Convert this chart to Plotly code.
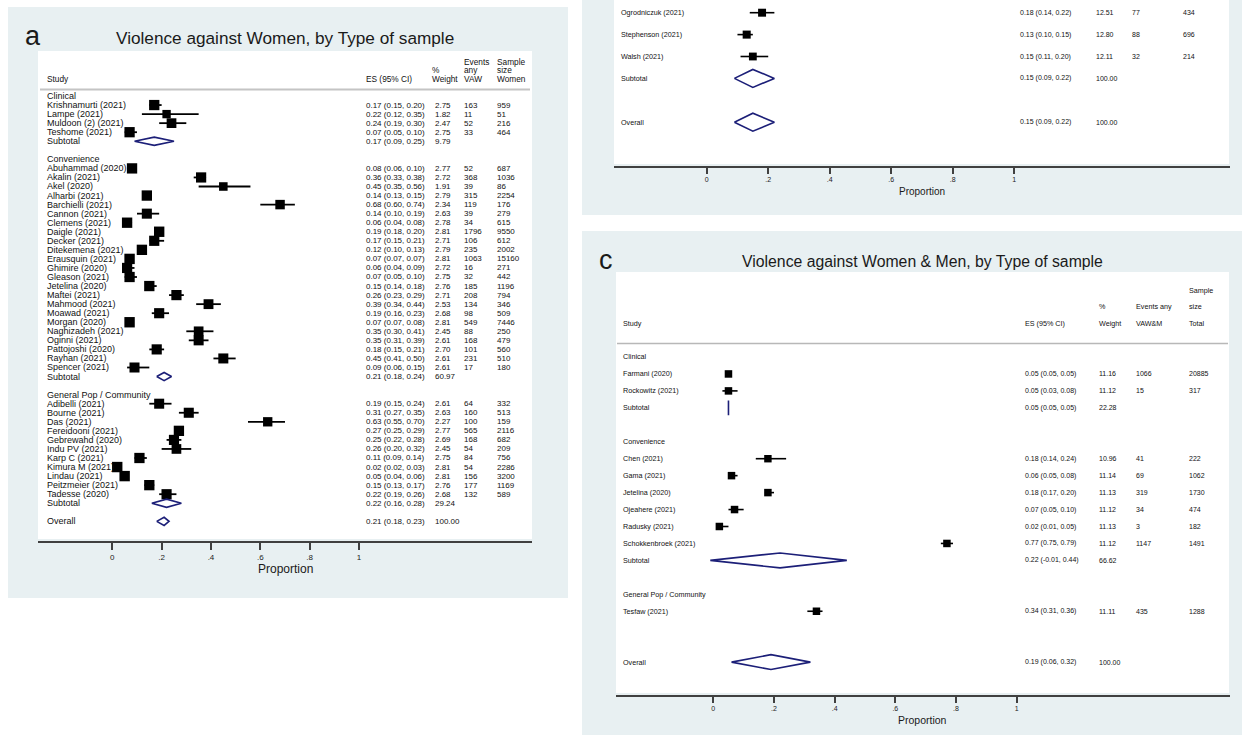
import plotly.graph_objects as go

W, H = 1242, 735

# ---------------- Panel a : Violence against Women ----------------
a_group_names = ["Clinical", "Convenience", "General Pop / Community"]
a_study = ["Krishnamurti (2021)", "Lampe (2021)", "Muldoon (2) (2021)", "Teshome (2021)",
           "Abuhammad (2020)", "Akalin (2021)", "Akel (2020)", "Alharbi (2021)", "Barchielli (2021)",
           "Cannon (2021)", "Clemens (2021)", "Daigle (2021)", "Decker (2021)", "Ditekemena (2021)",
           "Erausquin (2021)", "Ghimire (2020)", "Gleason (2021)", "Jetelina (2020)", "Maftei (2021)",
           "Mahmood (2021)", "Moawad (2021)", "Morgan (2020)", "Naghizadeh (2021)", "Oginni (2021)",
           "Pattojoshi (2020)", "Rayhan (2021)", "Spencer (2021)",
           "Adibelli (2021)", "Bourne (2021)", "Das (2021)", "Fereidooni (2021)", "Gebrewahd (2020)",
           "Indu PV (2021)", "Karp C (2021)", "Kimura M (2021)", "Lindau (2021)", "Peitzmeier (2021)",
           "Tadesse (2020)"]
a_group = [0]*4 + [1]*23 + [2]*11
a_es = [0.17, 0.22, 0.24, 0.07,
        0.08, 0.36, 0.45, 0.14, 0.68, 0.14, 0.06, 0.19, 0.17, 0.12, 0.07, 0.06, 0.07, 0.15, 0.26,
        0.39, 0.19, 0.07, 0.35, 0.35, 0.18, 0.45, 0.09,
        0.19, 0.31, 0.63, 0.27, 0.25, 0.26, 0.11, 0.02, 0.05, 0.15, 0.22]
a_lo = [0.15, 0.12, 0.19, 0.05,
        0.06, 0.33, 0.35, 0.13, 0.60, 0.10, 0.04, 0.18, 0.15, 0.10, 0.07, 0.04, 0.05, 0.14, 0.23,
        0.34, 0.16, 0.07, 0.30, 0.31, 0.15, 0.41, 0.06,
        0.15, 0.27, 0.55, 0.25, 0.22, 0.20, 0.09, 0.02, 0.04, 0.13, 0.19]
a_hi = [0.20, 0.35, 0.30, 0.10,
        0.10, 0.38, 0.56, 0.15, 0.74, 0.19, 0.08, 0.20, 0.21, 0.13, 0.07, 0.09, 0.10, 0.18, 0.29,
        0.44, 0.23, 0.08, 0.41, 0.39, 0.21, 0.50, 0.15,
        0.24, 0.35, 0.70, 0.29, 0.28, 0.32, 0.14, 0.03, 0.06, 0.17, 0.26]
a_wt = [2.75, 1.82, 2.47, 2.75,
        2.77, 2.72, 1.91, 2.79, 2.34, 2.63, 2.78, 2.81, 2.71, 2.79, 2.81, 2.72, 2.75, 2.76, 2.71,
        2.53, 2.68, 2.81, 2.45, 2.61, 2.70, 2.61, 2.61,
        2.61, 2.63, 2.27, 2.77, 2.69, 2.45, 2.75, 2.81, 2.81, 2.76, 2.68]
a_events = [163, 11, 52, 33,
            52, 368, 39, 315, 119, 39, 34, 1796, 106, 235, 1063, 16, 32, 185, 208,
            134, 98, 549, 88, 168, 101, 231, 17,
            64, 160, 100, 565, 168, 54, 84, 54, 156, 177, 132]
a_n = [959, 51, 216, 464,
       687, 1036, 86, 2254, 176, 279, 615, 9550, 612, 2002, 15160, 271, 442, 1196, 794,
       346, 509, 7446, 250, 479, 560, 510, 180,
       332, 513, 159, 2116, 682, 209, 756, 2286, 3200, 1169, 589]
a_sub_es = [0.17, 0.21, 0.22]
a_sub_lo = [0.09, 0.18, 0.16]
a_sub_hi = [0.25, 0.24, 0.28]
a_sub_wt = [9.79, 60.97, 29.24]
a_has_sub = [True, True, True]
a_overall = [0.21, 0.18, 0.23, 100.00]
a_header = [("Study", 47, ["Study"]), ("ES", 366, ["ES (95% CI)"]), ("W", 432, ["%", "Weight"]),
            ("E", 464, ["Events", "any", "VAW"]), ("N", 497, ["Sample", "size", "Women"])]

# ---------------- Panel b (lower part visible) ----------------
b_group_names = [None]
b_study = ["Ogrodniczuk (2021)", "Stephenson (2021)", "Walsh (2021)"]
b_group = [0, 0, 0]
b_es = [0.18, 0.13, 0.15]
b_lo = [0.14, 0.10, 0.11]
b_hi = [0.22, 0.15, 0.20]
b_wt = [12.51, 12.80, 12.11]
b_events = [77, 88, 32]
b_n = [434, 696, 214]
b_sub_es = [0.15]
b_sub_lo = [0.09]
b_sub_hi = [0.22]
b_sub_wt = [100.00]
b_has_sub = [True]
b_overall = [0.15, 0.09, 0.22, 100.00]

# ---------------- Panel c : Violence against Women & Men ----------------
c_group_names = ["Clinical", "Convenience", "General Pop / Community"]
c_study = ["Farmani (2020)", "Rockowitz (2021)",
           "Chen (2021)", "Gama (2021)", "Jetelina (2020)", "Ojeahere (2021)", "Radusky (2021)",
           "Schokkenbroek (2021)",
           "Tesfaw (2021)"]
c_group = [0, 0, 1, 1, 1, 1, 1, 1, 2]
c_es = [0.05, 0.05, 0.18, 0.06, 0.18, 0.07, 0.02, 0.77, 0.34]
c_lo = [0.05, 0.03, 0.14, 0.05, 0.17, 0.05, 0.01, 0.75, 0.31]
c_hi = [0.05, 0.08, 0.24, 0.08, 0.20, 0.10, 0.05, 0.79, 0.36]
c_wt = [11.16, 11.12, 10.96, 11.14, 11.13, 11.12, 11.13, 11.12, 11.11]
c_events = [1066, 15, 41, 69, 319, 34, 3, 1147, 435]
c_n = [20885, 317, 222, 1062, 1730, 474, 182, 1491, 1288]
c_sub_es = [0.05, 0.22, None]
c_sub_lo = [0.05, -0.01, None]
c_sub_hi = [0.05, 0.44, None]
c_sub_wt = [22.28, 66.62, None]
c_has_sub = [True, True, False]
c_overall = [0.19, 0.06, 0.32, 100.00]
c_header = [("Study", 623, ["Study"]), ("ES", 1025, ["ES (95% CI)"]), ("W", 1099, ["%", "Weight"]),
            ("E", 1136, ["Events any", "VAW&M"]), ("N", 1189, ["Sample", "size", "Total"])]

tick_vals = [0, 0.2, 0.4, 0.6, 0.8, 1]
tick_text = ["0", ".2", ".4", ".6", ".8", "1"]

FONT = "Liberation Sans, Arial, sans-serif"
NAVY = "#1c1f78"
BG = "#e8f0f2"
AXC = "#404040"

fig = go.Figure()
shapes = []
annots = []


def px(x):
    return x / W


def py(y):
    return 1 - y / H


def rect(x0, y0, x1, y1, color):
    shapes.append(dict(type="rect", xref="paper", yref="paper", x0=px(x0), x1=px(x1),
                       y0=py(y1), y1=py(y0), fillcolor=color, line=dict(width=0), layer="below"))


def panel(ax, study, group, es, lo, hi, wt, ev, n, gnames, s_es, s_lo, s_hi, s_wt, has_sub,
          overall, cols, fs_name, fs_num, k, dh, lw):
    ya = "y" if ax == 1 else f"y{ax}"
    xa = "x" if ax == 1 else f"x{ax}"
    rows_txt = []
    st_rows, r = [], 0
    dia = []
    for g, gname in enumerate(gnames):
        if gname is not None:
            rows_txt.append((r, "Study", gname))
            r += 1
        for i in range(len(study)):
            if group[i] != g:
                continue
            st_rows.append(r)
            rows_txt += [(r, "Study", study[i]),
                         (r, "ES", f"{es[i]:.2f} ({lo[i]:.2f}, {hi[i]:.2f})"),
                         (r, "W", f"{wt[i]:.2f}"), (r, "E", str(ev[i])), (r, "N", str(n[i]))]
            r += 1
        if has_sub[g]:
            rows_txt += [(r, "Study", "Subtotal"),
                         (r, "ES", f"{s_es[g]:.2f} ({s_lo[g]:.2f}, {s_hi[g]:.2f})"),
                         (r, "W", f"{s_wt[g]:.2f}")]
            dia.append((r, s_es[g], s_lo[g], s_hi[g]))
        r += 2
    rows_txt += [(r, "Study", "Overall"),
                 (r, "ES", f"{overall[0]:.2f} ({overall[1]:.2f}, {overall[2]:.2f})"),
                 (r, "W", f"{overall[3]:.2f}")]
    dia.append((r, overall[0], overall[1], overall[2]))

    for (row, key, txt) in rows_txt:
        annots.append(dict(xref="paper", yref=ya, x=px(cols[key] - 2), y=row, text=txt,
                           xanchor="left", yanchor="middle", showarrow=False,
                           font=dict(family=FONT, size=fs_name if key == "Study" else fs_num,
                                     color="#111")))
    cx, cy = [], []
    for i, rr in enumerate(st_rows):
        cx += [lo[i], hi[i], None]
        cy += [rr, rr, None]
    fig.add_trace(go.Scatter(x=cx, y=cy, mode="lines", line=dict(color="black", width=lw),
                             xaxis=xa, yaxis=ya, hoverinfo="skip"))
    fig.add_trace(go.Scatter(x=es, y=st_rows, mode="markers",
                             marker=dict(symbol="square", color="black", opacity=1,
                                         size=[k * w ** 0.5 for w in wt], line=dict(width=0)),
                             xaxis=xa, yaxis=ya, hoverinfo="skip"))
    dx, dy = [], []
    for (rr, e, l, h) in dia:
        dx += [l, e, h, e, l, None]
        dy += [rr, rr - dh, rr, rr + dh, rr, None]
    fig.add_trace(go.Scatter(x=dx, y=dy, mode="lines", line=dict(color=NAVY, width=1.6),
                             xaxis=xa, yaxis=ya, hoverinfo="skip"))


def header(ya, items, first_row, step, fs):
    for key, x, lines in items:
        nl = len(lines)
        for j, t in enumerate(lines):
            annots.append(dict(xref="paper", yref=ya, x=px(x - 2), y=first_row - (nl - 1 - j) * step,
                               text=t, xanchor="left", yanchor="middle", showarrow=False,
                               font=dict(family=FONT, size=fs, color="#111")))


# ---- backgrounds ----
rect(8, 7, 568, 598, BG)
rect(582, -5, 1242, 215, BG)
rect(582, 231, 1242, 740, BG)
rect(38, 51, 532, 539, "white")
rect(614, -5, 1229, 164, "white")
rect(616, 272, 1229, 693, "white")

# ---- panel a ----
cols_a = {"Study": 47, "ES": 366, "W": 435, "E": 464, "N": 497}
panel(1, a_study, a_group, a_es, a_lo, a_hi, a_wt, a_events, a_n, a_group_names,
      a_sub_es, a_sub_lo, a_sub_hi, a_sub_wt, a_has_sub, a_overall, cols_a, 9, 8, 6.2, 0.45, 1.8)
header("y", a_header, -1.88, 0.95, 8.3)
shapes.append(dict(type="line", xref="paper", yref="paper", x0=px(40), x1=px(530),
                   y0=py(89.5), y1=py(89.5), line=dict(color="#c4c4c4", width=2)))

# ---- panel b ----
cols_b = {"Study": 621, "ES": 1020, "W": 1096, "E": 1132, "N": 1183}
panel(2, b_study, b_group, b_es, b_lo, b_hi, b_wt, b_events, b_n, b_group_names,
      b_sub_es, b_sub_lo, b_sub_hi, b_sub_wt, b_has_sub, b_overall, cols_b, 7.2, 7, 2.25, 0.41, 1.6)

# ---- panel c ----
cols_c = {"Study": 623, "ES": 1025, "W": 1099, "E": 1136, "N": 1189}
panel(3, c_study, c_group, c_es, c_lo, c_hi, c_wt, c_events, c_n, c_group_names,
      c_sub_es, c_sub_lo, c_sub_hi, c_sub_wt, c_has_sub, c_overall, cols_c, 7.2, 7, 2.25, 0.44, 1.6)
header("y3", c_header, -1.95, 1.0, 7.2)
shapes.append(dict(type="line", xref="paper", yref="paper", x0=px(617), x1=px(1228),
                   y0=py(343.5), y1=py(343.5), line=dict(color="#b8b8b8", width=1.5)))


def label(x, y, text, size, color="#1a1a1a"):
    annots.append(dict(xref="paper", yref="paper", x=px(x), y=py(y), text=text,
                       xanchor="center", yanchor="middle", showarrow=False,
                       font=dict(family=FONT, size=size, color=color)))


label(33, 36, "a", 27)
label(285, 38, "Violence against Women, by Type of sample", 17.2)
label(606, 260, "c", 27)
label(922, 261, "Violence against Women & Men, by Type of sample", 15.8)
label(285, 569, "Proportion", 12)
label(922, 191.5, "Proportion", 10)
label(922, 720, "Proportion", 10.5)


def xaxis(x0, x1, zero, unit, yanchor, tfs, tlen):
    return dict(domain=[px(x0), px(x1)], range=[(x0 - zero) / unit, (x1 - zero) / unit],
                anchor=yanchor, showline=True, linecolor=AXC, linewidth=2, ticks="outside",
                ticklen=tlen, tickwidth=2, tickcolor=AXC, tickvals=tick_vals, ticktext=tick_text,
                tickfont=dict(family=FONT, size=tfs, color="#222"), showgrid=False, zeroline=False,
                fixedrange=True)


def yaxis(top_px, bot_px, row0_px, step):
    return dict(domain=[py(bot_px), py(top_px)],
                range=[(bot_px - row0_px) / step, (top_px - row0_px) / step],
                visible=False, showgrid=False, zeroline=False, fixedrange=True)


fig.update_layout(
    width=W, height=H, margin=dict(l=0, r=0, t=0, b=0),
    paper_bgcolor="white", plot_bgcolor="rgba(0,0,0,0)", showlegend=False, hovermode=False,
    xaxis=xaxis(38, 532, 112.3, 246.7, "y", 8, 7),
    yaxis=yaxis(51, 541, 96, 9.05),
    xaxis2=xaxis(614, 1230, 706.7, 307.6, "y2", 7, 6),
    yaxis2=yaxis(0, 166, 12.7, 21.9),
    xaxis3=xaxis(616, 1230, 713.3, 303.4, "y3", 7, 6),
    yaxis3=yaxis(272, 695, 357, 16.95),
    shapes=shapes, annotations=annots,
)

fig.write_html("out.html", config={"displayModeBar": False},
               post_script="document.body.style.margin='0';")
